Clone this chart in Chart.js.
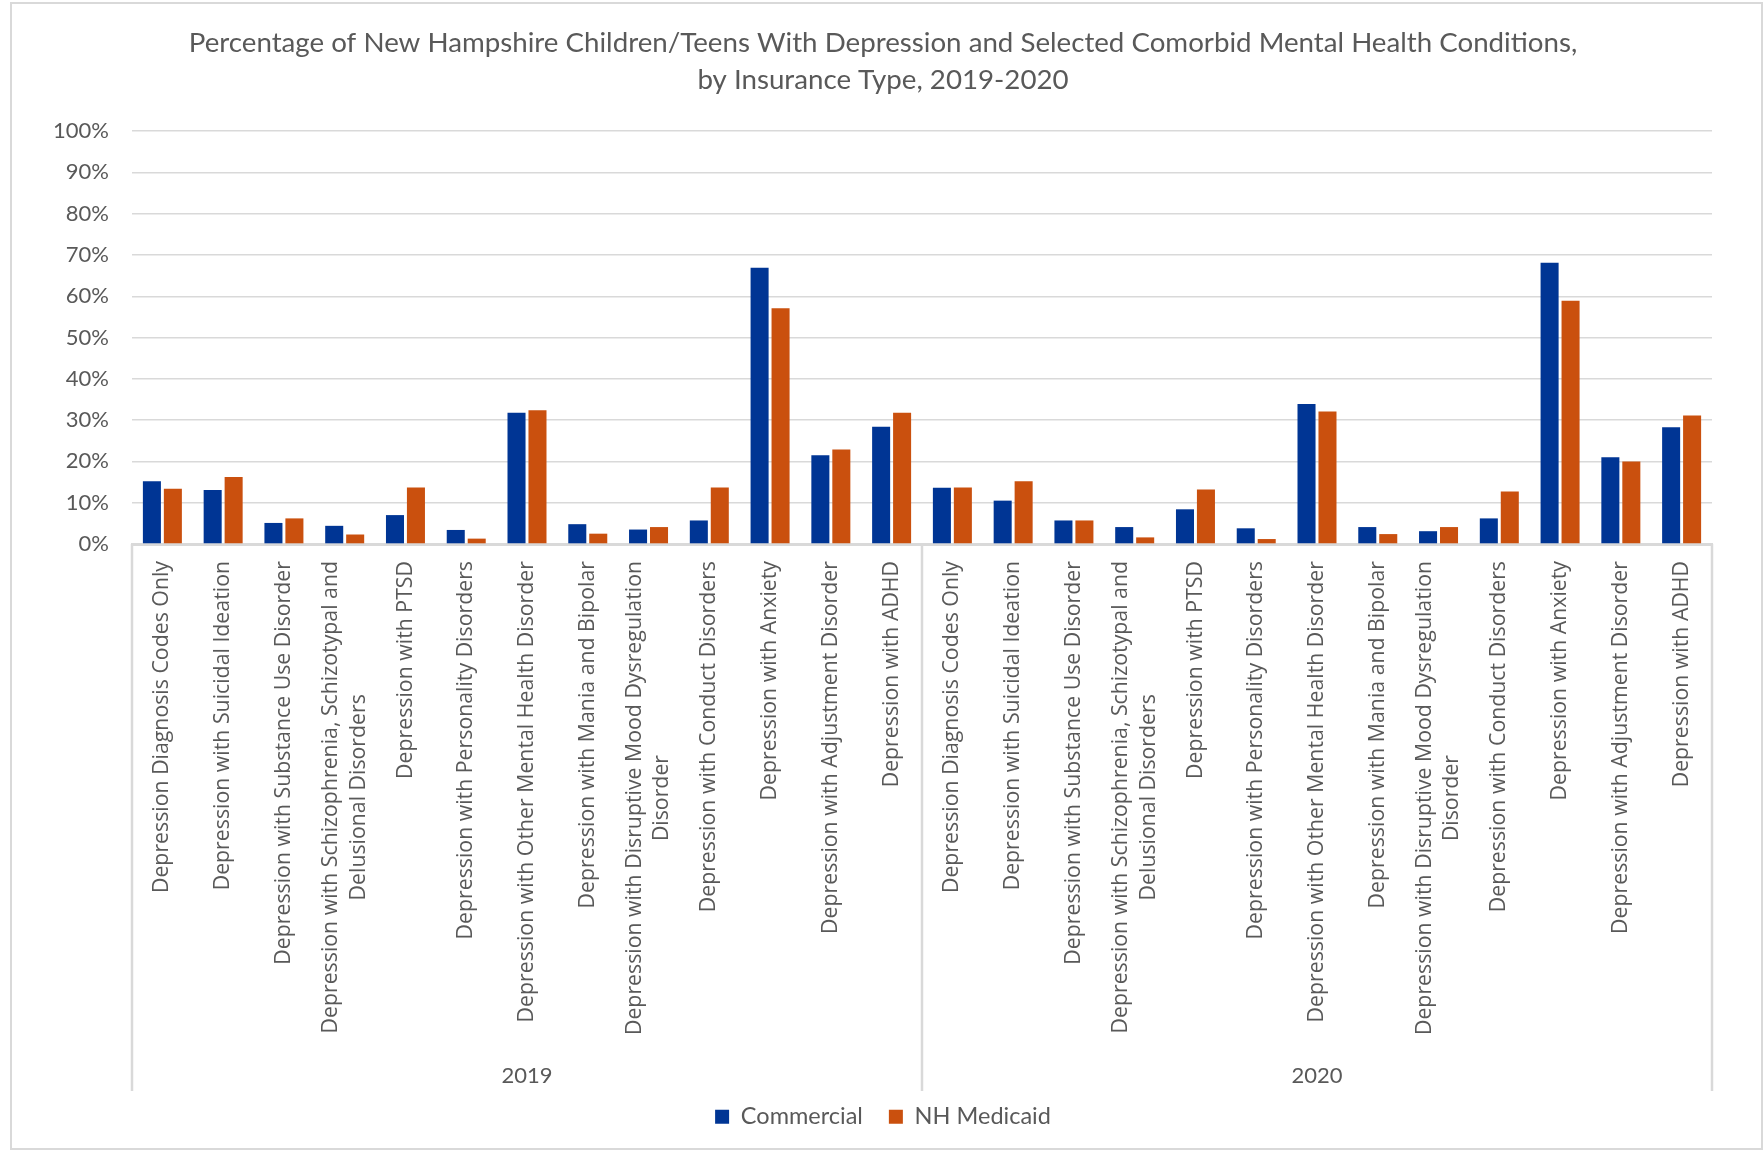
<!DOCTYPE html>
<html>
<head>
<meta charset="utf-8">
<script src="https://cdn.jsdelivr.net/npm/chart.js@4/dist/chart.umd.min.js"></script>
<style>
  html, body { margin: 0; padding: 0; background: #ffffff; }
  #frame { position: absolute; left: 10px; top: 2px; width: 1753px; height: 1148px; box-sizing: border-box; border: 2px solid #d9d9d9; }
  #wrap { position: absolute; left: 0; top: 0; width: 1763px; height: 1152px; }
</style>
</head>
<body>
<div id="frame"></div>
<div id="wrap"><canvas id="c"></canvas></div>
<script>
const titleLines = [
  'Percentage of New Hampshire Children/Teens With Depression and Selected Comorbid Mental Health Conditions,',
  'by Insurance Type, 2019-2020'
];
const years = ['2019', '2020'];
const conditions = [
  'Depression Diagnosis Codes Only',
  'Depression with Suicidal Ideation',
  'Depression with Substance Use Disorder',
  ['Depression with Schizophrenia, Schizotypal and', 'Delusional Disorders'],
  'Depression with PTSD',
  'Depression with Personality Disorders',
  'Depression with Other Mental Health Disorder',
  'Depression with Mania and Bipolar',
  ['Depression with Disruptive Mood Dysregulation', 'Disorder'],
  'Depression with Conduct Disorders',
  'Depression with Anxiety',
  'Depression with Adjustment Disorder',
  'Depression with ADHD'
];
const seriesNames = ['Commercial', 'NH Medicaid'];
// values in percent, 2019 block then 2020 block
const commercial = [
  15.2, 13.1, 5.1, 4.4, 7.0, 3.4, 31.8, 4.8, 3.5, 5.7, 66.9, 21.5, 28.4,
  13.6, 10.5, 5.7, 4.1, 8.4, 3.8, 33.9, 4.1, 3.1, 6.2, 68.1, 21.0, 28.3
];
const medicaid = [
  13.4, 16.2, 6.2, 2.3, 13.7, 1.3, 32.4, 2.5, 4.1, 13.7, 57.1, 22.9, 31.8,
  13.7, 15.2, 5.7, 1.6, 13.2, 1.2, 32.1, 2.4, 4.1, 12.7, 58.9, 20.0, 31.1
];
const yTicks = [0, 10, 20, 30, 40, 50, 60, 70, 80, 90, 100];

const categories = years.flatMap(() => conditions);

const GRAY_TEXT = '#595959';
const GRID = '#d9d9d9';
const X_FONT = { family: "'Open Sans'", size: 21.3 };
const YEAR_FONT = { family: 'Lato', size: 22 };
const X_PAD = 17;

const xLabelPlugin = {
  id: 'xLabels',
  afterDraw(chart) {
    const xs = chart.scales.x;
    const x2 = chart.scales.x2;
    const ctx = chart.ctx;
    ctx.save();
    // group separator lines
    ctx.strokeStyle = GRID;
    ctx.lineWidth = 2.5;
    const n = categories.length;
    const seps = [xs.left, (xs.getPixelForTick(conditions.length - 1) + xs.getPixelForTick(conditions.length)) / 2, xs.right];
    seps.forEach(sx => {
      ctx.beginPath();
      ctx.moveTo(sx, xs.top);
      ctx.lineTo(sx, x2.bottom + 12);
      ctx.stroke();
    });
    // rotated category labels, centered line by line
    ctx.font = `${X_FONT.size}px ${X_FONT.family}`;
    ctx.fillStyle = GRAY_TEXT;
    ctx.textAlign = 'center';
    ctx.textBaseline = 'middle';
    const lh = X_FONT.size * 1.3;
    for (let i = 0; i < n; i++) {
      const lab = categories[i];
      const lines = Array.isArray(lab) ? lab : [lab];
      const maxW = Math.max(...lines.map(l => ctx.measureText(l).width));
      const px = xs.getPixelForTick(i);
      const cy = xs.top + X_PAD + maxW / 2;
      lines.forEach((ln, j) => {
        const lx = px + (j - (lines.length - 1) / 2) * lh;
        ctx.save();
        ctx.translate(lx, cy);
        ctx.rotate(-Math.PI / 2);
        ctx.fillText(ln, 0, 0);
        ctx.restore();
      });
    }
    // year group labels from the second category scale
    ctx.font = `${YEAR_FONT.size}px ${YEAR_FONT.family}`;
    for (let i = 0; i < years.length; i++) {
      ctx.fillText(years[i], x2.getPixelForTick(i), x2.top + 32);
    }
    ctx.restore();
  }
};

new Chart(document.getElementById('c'), {
  type: 'bar',
  data: {
    labels: categories,
    datasets: [
      { label: seriesNames[0], data: commercial, backgroundColor: '#003594', borderWidth: 0, barPercentage: 0.86, categoryPercentage: 0.69 },
      { label: seriesNames[1], data: medicaid, backgroundColor: '#ca500e', borderWidth: 0, barPercentage: 0.86, categoryPercentage: 0.69 }
    ]
  },
  options: {
    responsive: true,
    maintainAspectRatio: false,
    animation: false,
    layout: { padding: { left: 54, right: 51, top: 0, bottom: 13.5 } },
    plugins: {
      title: {
        display: true,
        text: titleLines,
        color: GRAY_TEXT,
        font: { family: 'Lato', size: 27.7, weight: 'normal', lineHeight: 1.336 },
        padding: { top: 25, bottom: 32 }
      },
      legend: {
        position: 'bottom',
        labels: {
          color: GRAY_TEXT,
          font: { family: 'Lato', size: 23.5 },
          boxWidth: 14,
          boxHeight: 14,
          padding: 26
        }
      },
      tooltip: { enabled: false }
    },
    scales: {
      x: {
        type: 'category',
        position: 'bottom',
        grid: { display: false, drawTicks: false },
        border: { display: true, color: GRID, width: 3 },
        ticks: { color: 'rgba(0,0,0,0)', font: X_FONT, minRotation: 90, maxRotation: 90, autoSkip: false, padding: X_PAD },
        afterFit(scale) { scale.height = 500; }
      },
      x2: {
        type: 'category',
        position: 'bottom',
        labels: years,
        offset: true,
        grid: { display: false, drawTicks: false },
        border: { display: false },
        ticks: { color: 'rgba(0,0,0,0)', font: YEAR_FONT, padding: 0, maxRotation: 0 },
        afterFit(scale) { scale.height = 35; }
      },
      y: {
        min: 0,
        max: 100,
        grid: { color: GRID, lineWidth: 1.4, drawTicks: false },
        border: { display: false },
        ticks: {
          stepSize: 10,
          color: GRAY_TEXT,
          font: { family: 'Lato', size: 22 },
          padding: 23,
          callback: (v) => yTicks.includes(v) ? v + '%' : ''
        },
        afterFit(scale) { scale.width = 78; }
      }
    }
  },
  plugins: [xLabelPlugin]
});
</script>
</body>
</html>
